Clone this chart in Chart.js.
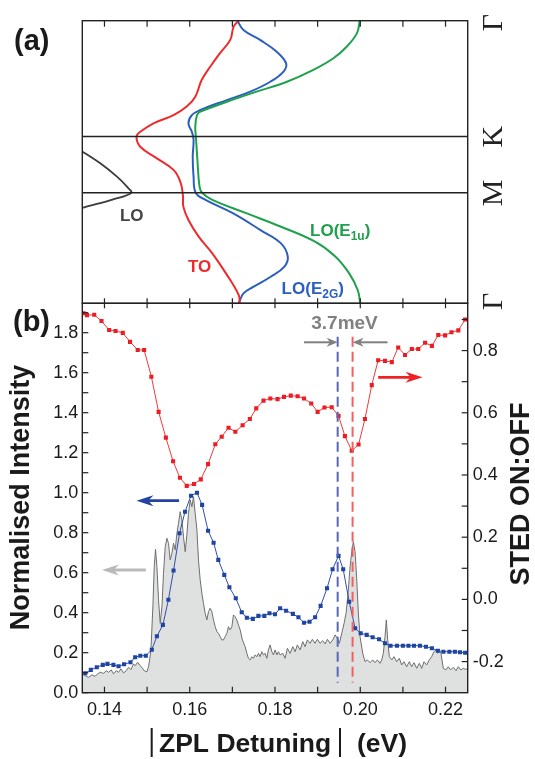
<!DOCTYPE html>
<html><head><meta charset="utf-8">
<script src="https://cdn.jsdelivr.net/npm/chart.js@4.4.0/dist/chart.umd.min.js"></script>
<style>
html,body{margin:0;padding:0;background:#fff;}
#wrap{position:relative;width:535px;height:759px;overflow:hidden;}
canvas{position:absolute;left:0;top:0;}
</style></head><body>
<div id="wrap"><canvas id="ca" width="535" height="759"></canvas><canvas id="cb" width="535" height="759"></canvas></div>
<script>
// ---------- shared axis ----------
const xMin = 0.1348, xMax = 0.2252;
const xTickValues = [0.14, 0.16, 0.18, 0.20, 0.22];
const xMinorValues = [0.14, 0.15, 0.16, 0.17, 0.18, 0.19, 0.20, 0.21, 0.22];
const leftTickValues = [0.0, 0.2, 0.4, 0.6, 0.8, 1.0, 1.2, 1.4, 1.6, 1.8];
const leftMinorValues = [0.1, 0.3, 0.5, 0.7, 0.9, 1.1, 1.3, 1.5, 1.7, 1.9];
const rightTickValues = [-0.2, 0.0, 0.2, 0.4, 0.6, 0.8];
const rightMinorValues = [-0.1, 0.1, 0.3, 0.5, 0.7, 0.9];
const leftMax = 1.947, rightMin = -0.300, rightMax = 0.952;

// ---------- panel (a): phonon dispersion, k path Γ-M-K-Γ ----------
const pathNames = ['Γ', 'M', 'K', 'Γ'];
const pathPos = [0, 0.391, 0.590, 1];
const toE = [0.1715,0.1703,0.1695,0.1671,0.1648,0.1628,0.1613,0.1593,0.1562,0.1515,0.1484,0.1475,0.1484,0.1523,0.1562,0.1578,0.1584,0.1585,0.1597,0.1621,0.1653,0.1685,0.1715,0.1717];
const toK = [1.0,0.979,0.932,0.885,0.837,0.790,0.731,0.696,0.666,0.637,0.607,0.590,0.554,0.513,0.472,0.430,0.383,0.342,0.295,0.236,0.177,0.106,0.029,0.0];
const lo2gE = [0.1712,0.1726,0.1765,0.1804,0.1826,0.1820,0.1789,0.1742,0.1687,0.1625,0.1605,0.1597,0.1605,0.1609,0.1607,0.1609,0.1614,0.1637,0.1702,0.1766,0.1814,0.1830,0.1822,0.1790,0.1750,0.1726,0.1715];
const lo2gK = [1.0,0.967,0.932,0.890,0.849,0.820,0.784,0.749,0.719,0.684,0.666,0.637,0.607,0.578,0.519,0.448,0.391,0.366,0.318,0.259,0.212,0.165,0.130,0.094,0.059,0.035,0.0];
const lo1uE = [0.1999,0.1992,0.1968,0.1937,0.1890,0.1828,0.1757,0.1687,0.1625,0.1617,0.1613,0.1615,0.1618,0.1623,0.1629,0.1653,0.1734,0.1814,0.1894,0.1942,0.1974,0.1994,0.2000];
const lo1uK = [1.0,0.955,0.908,0.867,0.826,0.784,0.749,0.713,0.678,0.666,0.625,0.578,0.507,0.413,0.391,0.366,0.318,0.271,0.218,0.165,0.106,0.047,0.0];
const loE = [0.13316,0.13487,0.13902,0.14293,0.14527,0.14628,0.14206,0.13524,0.13316];
const loK = [0.551,0.5365,0.4954,0.448,0.4126,0.391,0.368,0.3397,0.330];

// ---------- panel (b) ----------
// STED ON:OFF (right axis)
const onOffE = [0.1351,0.1359,0.1376,0.1393,0.1411,0.1426,0.1443,0.1460,0.1478,0.1493,0.1510,0.1527,0.1544,0.1561,0.1577,0.1593,0.1610,0.1626,0.1643,0.1660,0.1675,0.1691,0.1707,0.1724,0.1741,0.1756,0.1773,0.1789,0.1806,0.1821,0.1837,0.1853,0.1868,0.1885,0.1900,0.1916,0.1933,0.1949,0.1964,0.1980,0.1996,0.2011,0.2027,0.2042,0.2058,0.2074,0.2089,0.2105,0.2121,0.2136,0.2152,0.2168,0.2183,0.2199,0.2214,0.2230,0.2246];
const onOffRatio = [0.920,0.914,0.915,0.895,0.866,0.863,0.857,0.828,0.802,0.802,0.716,0.603,0.520,0.444,0.391,0.365,0.371,0.386,0.435,0.499,0.523,0.552,0.539,0.560,0.580,0.614,0.639,0.646,0.644,0.651,0.655,0.653,0.646,0.630,0.603,0.617,0.618,0.590,0.525,0.478,0.498,0.580,0.689,0.769,0.767,0.763,0.810,0.786,0.805,0.805,0.825,0.815,0.850,0.849,0.859,0.865,0.900];
// Normalised intensity, markers (left axis)
const intE = [0.1355,0.1368,0.1382,0.1396,0.1407,0.1421,0.1433,0.1446,0.1461,0.1472,0.1484,0.1497,0.1511,0.1523,0.1537,0.1550,0.1562,0.1576,0.1589,0.1603,0.1617,0.1629,0.1643,0.1656,0.1667,0.1681,0.1693,0.1708,0.1722,0.1734,0.1748,0.1761,0.1775,0.1787,0.1800,0.1812,0.1826,0.1842,0.1855,0.1868,0.1881,0.1894,0.1907,0.1922,0.1935,0.1949,0.1960,0.1974,0.1988,0.2001,0.2015,0.2029,0.2044,0.2058,0.2071,0.2086,0.2100,0.2113,0.2126,0.2140,0.2154,0.2168,0.2182,0.2195,0.2209,0.2222,0.2234,0.2246];
const intVal = [0.097,0.114,0.127,0.139,0.144,0.139,0.132,0.142,0.152,0.177,0.185,0.185,0.215,0.282,0.339,0.465,0.611,0.797,0.905,0.985,1.000,0.939,0.810,0.750,0.664,0.589,0.527,0.472,0.402,0.375,0.369,0.384,0.384,0.397,0.392,0.422,0.410,0.394,0.377,0.350,0.355,0.377,0.434,0.522,0.617,0.684,0.617,0.455,0.322,0.297,0.289,0.277,0.267,0.247,0.235,0.235,0.235,0.235,0.235,0.235,0.230,0.222,0.210,0.205,0.205,0.205,0.202,0.200];
// PL spectrum (grey filled, left axis)
const specE = [0.13487,0.1355,0.13627,0.13707,0.13784,0.13838,0.13902,0.13979,0.14042,0.14096,0.14159,0.14213,0.14277,0.1433,0.14387,0.14448,0.14511,0.14565,0.14621,0.14682,0.14722,0.14776,0.14839,0.14893,0.14933,0.14996,0.15034,0.15062,0.1509,0.15109,0.15137,0.15167,0.15198,0.1523,0.15268,0.15308,0.15348,0.15385,0.15425,0.15465,0.15502,0.15542,0.15582,0.1562,0.15659,0.15699,0.15737,0.15776,0.15816,0.15854,0.15894,0.15933,0.15971,0.16011,0.16051,0.16088,0.16128,0.16168,0.16205,0.16245,0.16285,0.16322,0.16362,0.16402,0.1644,0.1648,0.16519,0.16557,0.16597,0.16637,0.16674,0.16714,0.16754,0.16791,0.16831,0.16871,0.16908,0.16948,0.16988,0.17026,0.17065,0.17105,0.17143,0.17183,0.17236,0.173,0.1734,0.17377,0.17417,0.17457,0.17494,0.17534,0.17574,0.17612,0.17651,0.17691,0.17729,0.17769,0.17808,0.17846,0.17886,0.17926,0.17963,0.18003,0.18043,0.1808,0.1812,0.18183,0.18237,0.18291,0.18354,0.18418,0.18472,0.18525,0.18589,0.18652,0.18706,0.1876,0.18823,0.18877,0.1894,0.18994,0.19057,0.19121,0.19175,0.19229,0.19292,0.19355,0.19409,0.19463,0.1951,0.19566,0.1962,0.19667,0.19721,0.19761,0.198,0.19838,0.19878,0.19918,0.19955,0.19995,0.20058,0.20112,0.20166,0.20229,0.20293,0.20346,0.204,0.20464,0.20503,0.20541,0.20581,0.20611,0.20644,0.20682,0.20738,0.20792,0.20855,0.20916,0.20972,0.21026,0.21089,0.2115,0.21207,0.21261,0.21324,0.21385,0.21441,0.21495,0.21558,0.21619,0.21675,0.21729,0.21776,0.21816,0.21853,0.21893,0.21947,0.2201,0.22064,0.2212,0.22181,0.22245,0.22299,0.22355,0.22416,0.22472,0.22519];
const specVal = [0.094,0.085,0.077,0.089,0.082,0.094,0.102,0.097,0.110,0.102,0.114,0.094,0.110,0.102,0.119,0.099,0.110,0.127,0.115,0.144,0.135,0.152,0.135,0.122,0.110,0.104,0.130,0.169,0.214,0.304,0.439,0.630,0.717,0.630,0.464,0.347,0.430,0.597,0.730,0.772,0.747,0.664,0.697,0.747,0.714,0.797,0.847,0.905,0.864,0.780,0.705,0.789,0.897,0.964,0.930,0.980,0.897,0.814,0.664,0.564,0.497,0.447,0.397,0.364,0.405,0.422,0.405,0.364,0.330,0.305,0.297,0.280,0.264,0.264,0.280,0.297,0.330,0.314,0.330,0.389,0.380,0.364,0.339,0.314,0.264,0.230,0.197,0.172,0.164,0.180,0.172,0.189,0.180,0.197,0.180,0.205,0.189,0.197,0.172,0.214,0.239,0.205,0.189,0.214,0.189,0.205,0.189,0.197,0.172,0.222,0.197,0.230,0.205,0.239,0.214,0.255,0.230,0.264,0.247,0.267,0.247,0.267,0.247,0.260,0.244,0.267,0.247,0.264,0.289,0.272,0.247,0.297,0.347,0.397,0.514,0.630,0.705,0.755,0.705,0.564,0.397,0.280,0.197,0.155,0.164,0.150,0.164,0.150,0.164,0.147,0.164,0.197,0.280,0.364,0.264,0.180,0.164,0.180,0.155,0.172,0.139,0.155,0.130,0.155,0.130,0.150,0.122,0.147,0.122,0.155,0.139,0.164,0.180,0.205,0.214,0.197,0.210,0.197,0.122,0.114,0.130,0.114,0.127,0.110,0.130,0.114,0.122,0.117,0.119];
// annotation positions (data units: eV, left-axis units)
const dashEnergies = [0.1947, 0.1982];
const dashSpan = [0.05, 1.78];
const splitLabel = {text: '3.7meV', E: 0.1963, v: 1.846};
const grayArrows = [[0.1868, 0.1947, 1.752], [0.2064, 0.1982, 1.752]];
const redArrow = [0.2042, 0.2146, 1.577];
const blueArrow = [0.1575, 0.1475, 0.960];
const specArrow = [0.1497, 0.1394, 0.6135];

const SANS = "'Liberation Sans', Arial, Helvetica, sans-serif";
const SERIF = "'Liberation Serif', 'Times New Roman', serif";
const W = 535, H = 759;
const AL = 82.3, AR = 467.7, ATOP = 20.7, AMID = 303.3, ABOT = 692.7;

function pts(xs, ys){ return xs.map((x,i)=>({x:x, y:ys[i]})); }

function arrow(ctx, x1, y1, x2, y2, color, lw, hl, hw){
  const ang = Math.atan2(y2-y1, x2-x1);
  ctx.save();
  ctx.strokeStyle = color; ctx.fillStyle = color; ctx.lineWidth = lw;
  ctx.beginPath(); ctx.moveTo(x1,y1);
  ctx.lineTo(x2 - Math.cos(ang)*hl*0.6, y2 - Math.sin(ang)*hl*0.6); ctx.stroke();
  ctx.translate(x2,y2); ctx.rotate(ang);
  ctx.beginPath(); ctx.moveTo(0,0); ctx.lineTo(-hl,-hw); ctx.lineTo(-hl*0.7,0); ctx.lineTo(-hl,hw); ctx.closePath(); ctx.fill();
  ctx.restore();
}
function rotText(ctx, txt, x, y, font, color){
  ctx.save(); ctx.translate(x,y); ctx.rotate(-Math.PI/2);
  ctx.font = font; ctx.fillStyle = color; ctx.textAlign='center'; ctx.textBaseline='middle';
  ctx.fillText(txt,0,0); ctx.restore();
}
function subText(ctx, x, y, parts, color){
  ctx.save(); ctx.fillStyle=color; ctx.textAlign='left'; ctx.textBaseline='alphabetic';
  let cx = x;
  parts.forEach(p=>{ ctx.font = 'bold '+p[1]+'px '+SANS; ctx.fillText(p[0], cx, y+p[2]); cx += ctx.measureText(p[0]).width; });
  ctx.restore();
}

// ---------- chart (a) ----------
const panelA = {
  id:'panelA',
  afterDraw(chart){
    const ctx = chart.ctx, a = chart.chartArea, xs = chart.scales.x, ys = chart.scales.y;
    ctx.save();
    ctx.strokeStyle = '#222'; ctx.lineWidth = 1.4;
    ctx.strokeRect(a.left, a.top, a.right-a.left, a.bottom-a.top);
    [pathPos[1], pathPos[2]].forEach(k=>{ const y = ys.getPixelForValue(k); ctx.beginPath(); ctx.moveTo(a.left,y); ctx.lineTo(a.right,y); ctx.stroke(); });
    ctx.lineWidth = 1.2;
    xMinorValues.forEach(v=>{ const x = xs.getPixelForValue(v);
      ctx.beginPath(); ctx.moveTo(x,a.top); ctx.lineTo(x,a.top+6); ctx.stroke();
      ctx.beginPath(); ctx.moveTo(x,a.bottom); ctx.lineTo(x,a.bottom-5); ctx.stroke(); });
    // path labels
    pathNames.forEach((n,i)=>{ let y = ys.getPixelForValue(pathPos[i]); if(i===0) y -= 2; if(i===3) y += 2;
      rotText(ctx, n, a.right+26, y, '30px '+SERIF, '#222'); });
    // curve labels
    ctx.font = 'bold 17px '+SANS; ctx.textAlign='center'; ctx.textBaseline='middle';
    ctx.fillStyle = '#444'; ctx.fillText('LO', xs.getPixelForValue(0.14639), ys.getPixelForValue(0.309));
    ctx.fillStyle = '#ee2b2b'; ctx.fillText('TO', xs.getPixelForValue(0.16233), ys.getPixelForValue(0.1267));
    subText(ctx, xs.getPixelForValue(0.18155), ys.getPixelForValue(0.033), [['LO(E',17,0],['2G',12,4],[')',17,0]], '#2a5fbf');
    subText(ctx, xs.getPixelForValue(0.18823), ys.getPixelForValue(0.2364), [['LO(E',17,0],['1u',12,4],[')',17,0]], '#1fa14c');
    ctx.font = 'bold 29px '+SANS; ctx.fillStyle='#1a1a1a'; ctx.textAlign='center';
    ctx.fillText('(a)', 31.7, 42);
    ctx.restore();
  }
};
new Chart(document.getElementById('ca'), {
  type:'scatter',
  data:{datasets:[
    {data:pts(loE,loK), showLine:true, borderColor:'#3c3c3c', borderWidth:1.8, pointRadius:0, tension:0.35},
    {data:pts(toE,toK), showLine:true, borderColor:'#ee2b2b', borderWidth:2, pointRadius:0, tension:0.4},
    {data:pts(lo1uE,lo1uK), showLine:true, borderColor:'#1fa14c', borderWidth:2, pointRadius:0, tension:0.4},
    {data:pts(lo2gE,lo2gK), showLine:true, borderColor:'#2a5fbf', borderWidth:2, pointRadius:0, tension:0.4}
  ]},
  options:{
    responsive:false, animation:false, devicePixelRatio:1,
    layout:{padding:{left:AL, right:W-AR, top:ATOP, bottom:H-AMID}},
    plugins:{legend:{display:false}, tooltip:{enabled:false}},
    scales:{
      x:{type:'linear', min:xMin, max:xMax, display:false},
      y:{type:'linear', min:0, max:1, display:false}
    }
  },
  plugins:[panelA]
});

// ---------- chart (b) ----------
const panelB = {
  id:'panelB',
  afterDraw(chart){
    const ctx = chart.ctx, a = chart.chartArea, xs = chart.scales.x, yl = chart.scales.y, yr = chart.scales.y2;
    ctx.save();
    ctx.strokeStyle = '#222'; ctx.lineWidth = 1.4;
    ctx.strokeRect(a.left, a.top, a.right-a.left, a.bottom-a.top);
    ctx.lineWidth = 1.2;
    xMinorValues.forEach(v=>{ const x = xs.getPixelForValue(v);
      ctx.beginPath(); ctx.moveTo(x,a.bottom); ctx.lineTo(x,a.bottom-6); ctx.stroke();
      ctx.beginPath(); ctx.moveTo(x,a.top); ctx.lineTo(x,a.top+5); ctx.stroke(); });
    leftTickValues.concat(leftMinorValues).forEach(v=>{ const y = yl.getPixelForValue(v);
      ctx.beginPath(); ctx.moveTo(a.left,y); ctx.lineTo(a.left+6,y); ctx.stroke(); });
    rightTickValues.concat(rightMinorValues).forEach(v=>{ const y = yr.getPixelForValue(v);
      ctx.beginPath(); ctx.moveTo(a.right,y); ctx.lineTo(a.right-6,y); ctx.stroke(); });
    // dashed markers
    const dy1 = yl.getPixelForValue(dashSpan[0]), dy2 = yl.getPixelForValue(dashSpan[1]);
    ctx.lineWidth = 2; ctx.setLineDash([10,5]);
    [['#5a66b8',dashEnergies[0]],['#f26060',dashEnergies[1]]].forEach(d=>{ const x = xs.getPixelForValue(d[1]);
      ctx.strokeStyle = d[0]; ctx.beginPath(); ctx.moveTo(x,dy2); ctx.lineTo(x,dy1); ctx.stroke(); });
    ctx.setLineDash([]);
    // arrows
    grayArrows.forEach(g=>arrow(ctx, xs.getPixelForValue(g[0]), yl.getPixelForValue(g[2]), xs.getPixelForValue(g[1]), yl.getPixelForValue(g[2]), '#808080', 2, 11, 4.5));
    arrow(ctx, xs.getPixelForValue(redArrow[0]), yl.getPixelForValue(redArrow[2]), xs.getPixelForValue(redArrow[1]), yl.getPixelForValue(redArrow[2]), '#ee2222', 2.8, 17, 5.5);
    arrow(ctx, xs.getPixelForValue(blueArrow[0]), yl.getPixelForValue(blueArrow[2]), xs.getPixelForValue(blueArrow[1]), yl.getPixelForValue(blueArrow[2]), '#2443a0', 2.8, 17, 5.5);
    arrow(ctx, xs.getPixelForValue(specArrow[0]), yl.getPixelForValue(specArrow[2]), xs.getPixelForValue(specArrow[1]), yl.getPixelForValue(specArrow[2]), '#b9b9b9', 2.8, 17, 5.5);
    ctx.font = 'bold 19px '+SANS; ctx.fillStyle = '#808080'; ctx.textAlign='center'; ctx.textBaseline='middle';
    ctx.fillText(splitLabel.text, xs.getPixelForValue(splitLabel.E), yl.getPixelForValue(splitLabel.v));
    // titles
    ctx.font = 'bold 29px '+SANS; ctx.fillStyle='#1a1a1a';
    ctx.fillText('(b)', 31.5, 323);
    rotText(ctx, 'Normalised Intensity', 22, 497.5, 'bold 27px '+SANS, '#1a1a1a');
    rotText(ctx, 'STED ON:OFF', 522, 494, 'bold 27px '+SANS, '#1a1a1a');
    ctx.font = 'bold 26.5px '+SANS; ctx.textAlign='left'; ctx.textBaseline='alphabetic';
    ctx.fillText('ZPL Detuning', 159, 752);
    ctx.fillText('(eV)', 357, 752);
    ctx.strokeStyle = '#1a1a1a'; ctx.lineWidth = 2;
    [151.7, 340].forEach(x=>{ ctx.beginPath(); ctx.moveTo(x,728); ctx.lineTo(x,757); ctx.stroke(); });
    ctx.restore();
  }
};
const tickFont = {family:SANS, size:18};
new Chart(document.getElementById('cb'), {
  type:'scatter',
  data:{datasets:[
    {data:pts(onOffE,onOffRatio), yAxisID:'y2', showLine:true, borderColor:'#f03a3a', borderWidth:1, pointStyle:'rect', pointRadius:2.9, pointBorderWidth:0, pointBackgroundColor:'#ec1c24', tension:0},
    {data:pts(intE,intVal), yAxisID:'y', showLine:true, borderColor:'#2f4fb0', borderWidth:1, pointStyle:'rect', pointRadius:2.9, pointBorderWidth:0, pointBackgroundColor:'#1f45a3', tension:0},
    {data:pts(specE,specVal), yAxisID:'y', showLine:true, borderColor:'#6e6e6e', borderWidth:1, pointRadius:0, fill:'origin', backgroundColor:'#dfe0e0', tension:0}
  ]},
  options:{
    responsive:false, animation:false, devicePixelRatio:1,
    layout:{padding:{left:0, right:0, top:AMID, bottom:0}},
    plugins:{legend:{display:false}, tooltip:{enabled:false}},
    scales:{
      x:{type:'linear', position:'bottom', min:xMin, max:xMax, grid:{display:false, drawTicks:false}, border:{display:false},
         afterBuildTicks:s=>{ s.ticks = xTickValues.map(v=>({value:v})); },
         afterFit:s=>{ s.height = H-ABOT; },
         ticks:{autoSkip:false, maxRotation:0, padding:7, color:'#1a1a1a', font:tickFont, callback:v=>Number(v).toFixed(2)}},
      y:{type:'linear', position:'left', min:0, max:leftMax, grid:{display:false, drawTicks:false}, border:{display:false},
         afterBuildTicks:s=>{ s.ticks = leftTickValues.map(v=>({value:v})); },
         afterFit:s=>{ s.width = AL; },
         ticks:{padding:4, color:'#1a1a1a', font:tickFont, callback:v=>Number(v).toFixed(1)}},
      y2:{type:'linear', position:'right', min:rightMin, max:rightMax, grid:{display:false, drawTicks:false}, border:{display:false},
         afterBuildTicks:s=>{ s.ticks = rightTickValues.map(v=>({value:v})); },
         afterFit:s=>{ s.width = W-AR; },
         ticks:{padding:5, color:'#1a1a1a', font:tickFont, callback:v=>Number(v).toFixed(1)}}
    }
  },
  plugins:[panelB]
});
</script>
</body></html>
